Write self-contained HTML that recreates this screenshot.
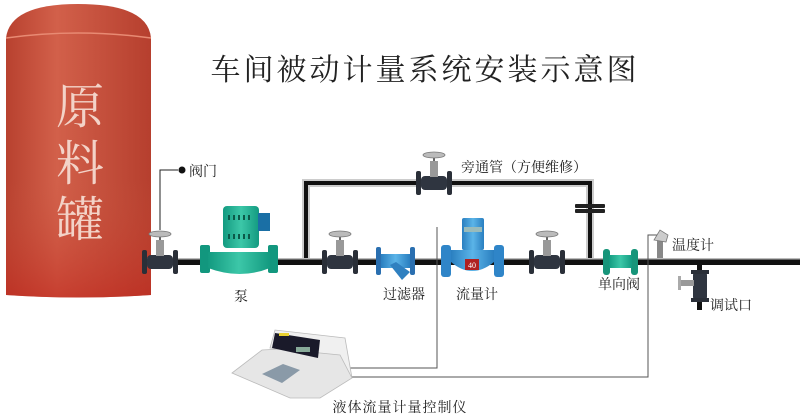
<!DOCTYPE html>
<html><head><meta charset="utf-8"><style>
html,body{margin:0;padding:0;background:#fff;width:800px;height:415px;overflow:hidden}
svg{display:block}
text{font-family:"Liberation Serif","Noto Serif CJK SC",serif;fill:#222}
</style></head><body>
<svg width="800" height="415" viewBox="0 0 800 415">
<defs>
<linearGradient id="tank" x1="0" x2="1" y1="0" y2="0">
<stop offset="0" stop-color="#b8412f"/><stop offset="0.35" stop-color="#d2604a"/><stop offset="1" stop-color="#b63f2e"/>
</linearGradient>
<linearGradient id="tankv" x1="0" x2="0" y1="0" y2="1">
<stop offset="0.6" stop-color="#c9553f" stop-opacity="0"/><stop offset="1" stop-color="#c0281e" stop-opacity="0.6"/>
</linearGradient>
<linearGradient id="blue" x1="0" x2="1"><stop offset="0" stop-color="#2a7fc0"/><stop offset="0.5" stop-color="#5bb4e8"/><stop offset="1" stop-color="#2a7fc0"/></linearGradient>
<linearGradient id="green" x1="0" x2="1"><stop offset="0" stop-color="#139a80"/><stop offset="0.5" stop-color="#3cc7a8"/><stop offset="1" stop-color="#139a80"/></linearGradient>
<g id="valve">
<rect x="-18" y="-12" width="5" height="24" rx="2" fill="#2a2f38"/>
<rect x="13" y="-12" width="5" height="24" rx="2" fill="#2a2f38"/>
<rect x="-13" y="-7" width="26" height="14" rx="4" fill="#2f3540"/>
<rect x="-4" y="-22" width="8" height="16" fill="#999"/>
<rect x="-1" y="-28" width="2" height="6" fill="#666"/>
<ellipse cx="0" cy="-28" rx="11" ry="3" fill="#bbb" stroke="#777" stroke-width="0.8"/>
</g>
</defs>
<!-- tank -->
<path d="M6,38 Q10,4 78,4 Q148,4 151,38 L151,295 Q78,300 6,295 Z" fill="url(#tank)"/>
<path d="M6,38 Q10,4 78,4 Q148,4 151,38 L151,295 Q78,300 6,295 Z" fill="url(#tankv)"/>
<path d="M6,38 Q78,28 151,38" stroke="#e88a73" stroke-width="1.5" fill="none"/>
<text x="80" y="123" font-size="48" text-anchor="middle" style="fill:#f3d3c8">原</text>
<text x="80" y="180" font-size="48" text-anchor="middle" style="fill:#f3d3c8">料</text>
<text x="80" y="236" font-size="48" text-anchor="middle" style="fill:#f3d3c8">罐</text>
<!-- title -->
<text x="425" y="80" font-size="30" text-anchor="middle" letter-spacing="3">车间被动计量系统安装示意图</text>
<!-- bypass -->
<path d="M306,262 V183 H590 V262" fill="none" stroke="#ccc" stroke-width="8"/>
<path d="M306,262 V183 H590 V262" fill="none" stroke="#111" stroke-width="4"/>
<!-- main pipe -->
<rect x="143" y="259" width="657" height="6" fill="#111"/>
<rect x="143" y="258" width="657" height="1.5" fill="#bbb"/>
<!-- test port -->
<rect x="697" y="262" width="5" height="48" fill="#111"/>
<g transform="translate(700,286) rotate(90)"><rect x="-14" y="-7" width="28" height="14" rx="3" fill="#2f3540"/><rect x="-16" y="-9" width="4" height="18" fill="#2a2f38"/><rect x="12" y="-9" width="4" height="18" fill="#2a2f38"/></g>
<rect x="680" y="280" width="14" height="6" fill="#999"/><rect x="678" y="276" width="3" height="14" fill="#aaa"/>
<!-- wires -->
<polyline points="437,227 437,368 350,368" fill="none" stroke="#555" stroke-width="1"/>
<polyline points="663,235 648,235 648,377 345,377" fill="none" stroke="#555" stroke-width="1"/>
<polyline points="160,230 160,170 178,170" fill="none" stroke="#222" stroke-width="1"/>
<circle cx="182" cy="170" r="3.5" fill="#111"/>
<text x="189" y="176" font-size="14">阀门</text>
<!-- valves -->
<use href="#valve" x="160" y="262"/>
<use href="#valve" x="340" y="262"/>
<use href="#valve" x="547" y="262"/>
<use href="#valve" x="434" y="183"/>
<rect x="575" y="204" width="30" height="4" rx="1" fill="#222"/><rect x="575" y="209" width="30" height="4" rx="1" fill="#222"/>
<!-- pump -->
<rect x="200" y="245" width="10" height="28" rx="2" fill="#12977e"/>
<rect x="268" y="245" width="10" height="28" rx="2" fill="#12977e"/>
<path d="M208,252 H270 V268 Q240,280 208,268 Z" fill="url(#green)"/>
<rect x="223" y="206" width="36" height="42" rx="4" fill="url(#green)"/>
<rect x="258" y="213" width="12" height="18" fill="#1a6fa5"/>
<g fill="#0b5a4a"><rect x="228" y="215" width="2" height="5"/><rect x="233" y="215" width="2" height="5"/><rect x="238" y="215" width="2" height="5"/><rect x="243" y="215" width="2" height="5"/><rect x="248" y="215" width="2" height="5"/><rect x="228" y="234" width="2" height="5"/><rect x="233" y="234" width="2" height="5"/><rect x="238" y="234" width="2" height="5"/><rect x="243" y="234" width="2" height="5"/><rect x="248" y="234" width="2" height="5"/></g>
<text x="241" y="301" font-size="14" text-anchor="middle">泵</text>
<!-- filter -->
<rect x="376" y="247" width="5" height="28" rx="2" fill="#2a6fb0"/>
<rect x="410" y="247" width="5" height="28" rx="2" fill="#2a6fb0"/>
<rect x="381" y="254" width="29" height="14" fill="url(#blue)"/>
<path d="M390,265 L402,280 L410,272 L396,262 Z" fill="#2f80c0"/>
<text x="404" y="299" font-size="14" text-anchor="middle">过滤器</text>
<!-- flow meter -->
<rect x="441" y="245" width="10" height="32" rx="3" fill="#2f85c8"/>
<rect x="494" y="245" width="10" height="32" rx="3" fill="#2f85c8"/>
<path d="M451,250 H494 V262 Q472,280 451,262 Z" fill="url(#blue)"/>
<rect x="462" y="218" width="22" height="32" rx="2" fill="url(#blue)"/>
<rect x="464" y="227" width="18" height="5" fill="#9bb"/>
<rect x="465" y="259" width="14" height="11" fill="#b02020"/>
<text x="472" y="268" font-size="8" text-anchor="middle" style="fill:#fff">40</text>
<text x="477" y="299" font-size="14" text-anchor="middle">流量计</text>
<text x="461" y="172" font-size="14">旁通管（方便维修）</text>
<!-- check valve -->
<rect x="603" y="249" width="7" height="26" rx="3" fill="#17957a"/>
<rect x="631" y="249" width="7" height="26" rx="3" fill="#17957a"/>
<rect x="609" y="255" width="23" height="13" fill="url(#green)"/>
<text x="619" y="289" font-size="14" text-anchor="middle">单向阀</text>
<!-- temperature gauge -->
<rect x="657" y="238" width="6" height="20" fill="#888"/>
<path d="M654,240 L660,230 L668,235 L666,242 Z" fill="#ccc" stroke="#777" stroke-width="0.8"/>
<text x="672" y="250" font-size="14">温度计</text>
<text x="710" y="310" font-size="14">调试口</text>
<!-- controller -->
<path d="M232,373 L262,350 L300,348 L340,352 L352,378 L320,398 L290,398 Z" fill="#e6e6e6" stroke="#bbb" stroke-width="0.8"/>
<path d="M270,348 L275,330 L345,338 L352,378 L340,355 Z" fill="#f0f0f0" stroke="#bbb" stroke-width="0.8"/>
<path d="M275,333 L320,340 L318,358 L272,348 Z" fill="#1a1a2a"/>
<rect x="296" y="347" width="14" height="5" fill="#8a9"/>
<path d="M262,374 L283,364 L300,370 L282,383 Z" fill="#8a9aa8"/>
<rect x="279" y="333" width="10" height="3" fill="#e8d030"/>
<text x="400" y="412" font-size="14" text-anchor="middle" letter-spacing="1">液体流量计量控制仪</text>
</svg>
</body></html>
